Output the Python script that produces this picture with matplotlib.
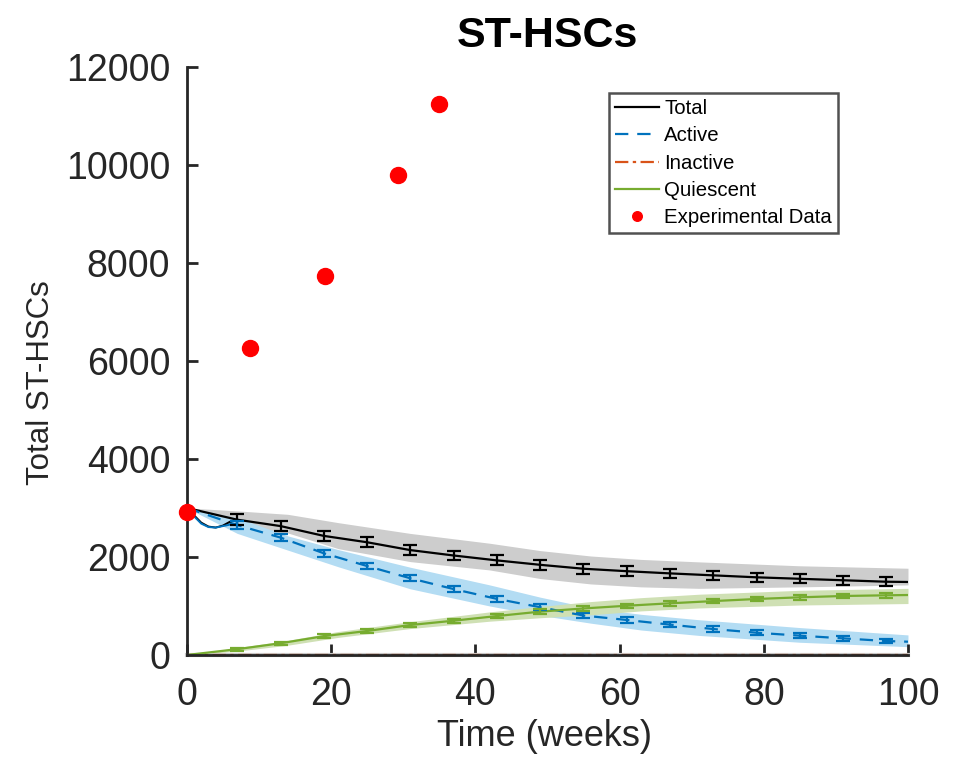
import matplotlib
matplotlib.use("Agg")
import matplotlib.pyplot as plt

plt.rcParams["font.family"] = ["Liberation Sans", "DejaVu Sans"]

# experimental data
exp_t = [0, 8.7, 19.1, 29.3, 35.0]
exp_y = [2910, 6260, 7740, 9790, 11240]

# mean curves (weeks) with error bars every 6 weeks
err_t = [7, 13, 19, 25, 31, 37, 43, 49, 55, 61, 67, 73, 79, 85, 91, 97]
total_err = [2760, 2630, 2430, 2300, 2140, 2030, 1930, 1840, 1760, 1710, 1665, 1625, 1585, 1555, 1525, 1495]
active_err = [2650, 2395, 2075, 1815, 1565, 1345, 1145, 975, 805, 715, 620, 530, 455, 395, 340, 285]
quiesc_err = [120, 240, 385, 490, 612, 700, 795, 885, 950, 1005, 1055, 1100, 1143, 1177, 1204, 1218]
total_sd = [110, 105, 105, 100, 100, 100, 100, 100, 100, 100, 95, 95, 95, 95, 95, 95]
active_sd = [75, 70, 70, 65, 65, 65, 60, 60, 60, 55, 55, 55, 50, 50, 45, 45]
quiesc_sd = [30, 35, 35, 40, 40, 40, 45, 45, 45, 45, 45, 45, 45, 45, 45, 45]

start_total, end_total = 3000, 1490
start_active, end_active = 3000, 272
start_quiesc, end_quiesc = 0, 1224

# early transient of the model (first weeks)
dip_t = [0, 1, 2, 3, 4, 5, 6, 7]
dip_total = [3000, 2850, 2700, 2620, 2600, 2640, 2720, 2760]
dip_active = [3000, 2830, 2680, 2610, 2600, 2630, 2660, 2680]

# spread of the stochastic runs
band_t = [0, 7, 14, 21, 31, 42, 49, 56, 63, 71, 85, 100]
total_hi = [3000, 2940, 2870, 2700, 2480, 2280, 2130, 2020, 1950, 1900, 1820, 1770]
total_lo = [3000, 2560, 2490, 2170, 1905, 1735, 1560, 1450, 1390, 1360, 1390, 1430]
active_hi = [3000, 2800, 2430, 2150, 1790, 1430, 1180, 960, 830, 720, 560, 410]
active_lo = [3000, 2480, 2140, 1800, 1350, 1000, 810, 650, 510, 400, 260, 170]
quiesc_hi = [0, 150, 300, 480, 680, 880, 990, 1090, 1170, 1240, 1320, 1360]
quiesc_lo = [0, 80, 200, 360, 540, 690, 760, 820, 900, 960, 1020, 1050]

inactive_t = [0, 100]
inactive_y = [0, 0]

BLACK = "#000000"
BLUE = "#0072BD"
ORANGE = "#D95319"
GREEN = "#77AC30"
AXC = "#262626"


def main():
    fig = plt.figure(figsize=(9.68, 7.67), dpi=100)
    ax = fig.add_axes([0.193, 0.146, 0.745, 0.767])

    ax.fill_between(band_t, total_lo, total_hi, color="#cdcdcd", lw=0)
    ax.fill_between(band_t, active_lo, active_hi, color="#b3dcf3", lw=0)
    ax.fill_between(band_t, quiesc_lo, quiesc_hi, color="#cfe0b4", lw=0)
    ax.plot(inactive_t, inactive_y, color="#c8c8c8", lw=3, clip_on=False)

    tt = [0] + err_t + [100]
    ax.plot(tt, [start_total] + total_err + [end_total], color=BLACK, lw=1.6, label="Total")
    ax.plot(tt, [start_active] + active_err + [end_active], color=BLUE, lw=1.6,
            ls=(0, (6, 4)), label="Active")
    ax.plot(inactive_t, inactive_y, color=ORANGE, lw=1.6, ls=(0, (6, 2, 1.5, 2)),
            label="Inactive", clip_on=False)
    ax.plot(tt, [start_quiesc] + quiesc_err + [end_quiesc], color=GREEN, lw=1.6,
            label="Quiescent")

    ax.plot(dip_t, dip_total, color=BLACK, lw=1.4)
    ax.plot(dip_t, dip_active, color=BLUE, lw=1.4)

    ax.errorbar(err_t, total_err, yerr=total_sd, fmt="none", ecolor=BLACK,
                elinewidth=1.6, capsize=5, capthick=1.6)
    ax.errorbar(err_t, active_err, yerr=active_sd, fmt="none", ecolor=BLUE,
                elinewidth=1.6, capsize=5, capthick=1.6)
    ax.errorbar(err_t, quiesc_err, yerr=quiesc_sd, fmt="none", ecolor=GREEN,
                elinewidth=1.6, capsize=5, capthick=1.6)

    ax.plot(exp_t, exp_y, "o", color="#ff0000", ms=11.5, mec="#ff0000",
            label="Experimental Data", clip_on=False, zorder=5)

    ax.set_xlim(0, 100)
    ax.set_ylim(0, 12000)
    ax.set_xticks(range(0, 101, 20))
    ax.set_yticks(range(0, 12001, 2000))
    for s in ["top", "right"]:
        ax.spines[s].set_visible(False)
    for s in ["left", "bottom"]:
        ax.spines[s].set_linewidth(2)
        ax.spines[s].set_color(AXC)
    ax.tick_params(direction="in", length=8, width=2, color=AXC,
                   labelsize=27, labelcolor=AXC)
    ax.tick_params(axis="x", pad=16)
    ax.tick_params(axis="y", pad=12)

    ax.set_xlabel("Time (weeks)", fontsize=26, color=AXC)
    ax.xaxis.set_label_coords(0.4965, -0.108)
    ax.set_ylabel("Total ST-HSCs", fontsize=22.5, color=AXC)
    ax.yaxis.set_label_coords(-0.182, 0.4626)
    ax.set_title("ST-HSCs", fontsize=31, fontweight="bold", pad=14)

    leg = ax.legend(loc="upper right", bbox_to_anchor=(0.903, 0.955), fontsize=14.7,
                    frameon=True, fancybox=False, handlelength=2.15,
                    handletextpad=0.25, labelspacing=0.4, borderpad=0.3,
                    borderaxespad=0, markerscale=0.6)
    leg.get_frame().set_edgecolor(AXC)
    leg.get_frame().set_linewidth(1.8)

    fig.savefig("out.png", dpi=100)


if __name__ == "__main__":
    main()
